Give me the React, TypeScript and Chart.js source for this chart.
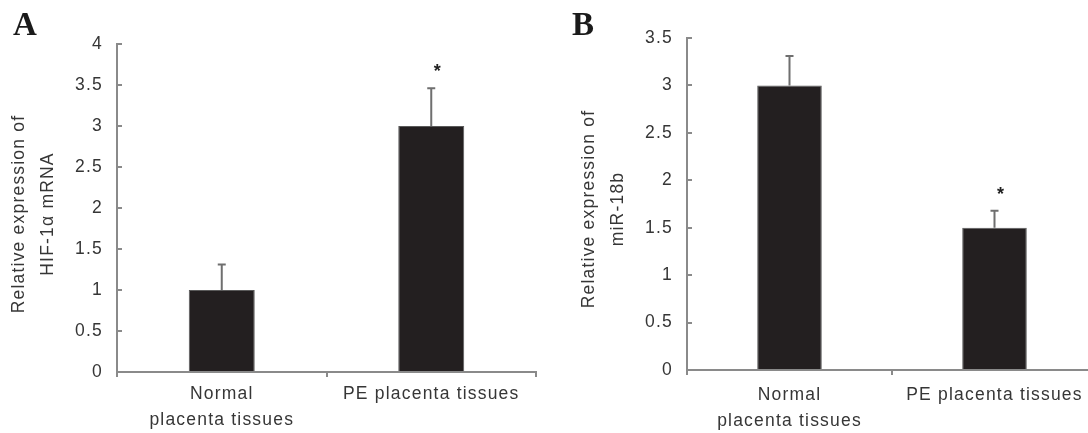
import React, { useEffect, useRef } from "react";
import { Chart, registerables } from "chart.js";

Chart.register(...registerables);

// ---- data ----
const categories: (string | string[])[] = [["Normal", "placenta tissues"], "PE placenta tissues"];

const hifMeans = [1.0, 3.0];
const hifErrors = [0.31, 0.46];
const hifSignificant = [false, true];
const hifTitle = ["Relative expression of", "HIF-1α mRNA"];
const hifMax = 4;

const mirMeans = [3.0, 1.5];
const mirErrors = [0.31, 0.18];
const mirSignificant = [false, true];
const mirTitle = ["Relative expression of", "miR-18b"];
const mirMax = 3.5;

const tickStep = 0.5;

// ---- style ----
const FONT = '"Liberation Sans", Arial, sans-serif';
const FS = 17.5;
const TEXT = "#363636";
const AXIS = "#8a8a8a";
const BAR = "#231f20";
const BAR_BORDER = "#5a5a5a";
const ERR = "#6f6f6f";
const SPACING = "1.2px";

type PanelCfg = {
  letter: string;
  means: number[];
  errors: number[];
  sig: boolean[];
  title: string[];
  max: number;
  yWidth: number;
  xHeight: number;
  top: number;
  right: number;
  titleX: number;
  titleShift: number;
  xPad: number;
  letterX: number;
};

function makeChart(canvas: HTMLCanvasElement, p: PanelCfg) {
  const decor = {
    id: "decor",
    beforeLayout(chart: any) {
      chart.ctx.letterSpacing = SPACING;
    },
    beforeDraw(chart: any) {
      chart.ctx.letterSpacing = SPACING;
    },
    afterDatasetsDraw(chart: any) {
      const ctx = chart.ctx;
      const y = chart.scales.y;
      const meta = chart.getDatasetMeta(0);
      ctx.save();
      meta.data.forEach((bar: any, i: number) => {
        const cx = bar.x;
        const base = y.getPixelForValue(p.means[i]);
        const top = y.getPixelForValue(p.means[i] + p.errors[i]);
        ctx.strokeStyle = ERR;
        ctx.lineWidth = 2;
        ctx.beginPath();
        ctx.moveTo(cx, base);
        ctx.lineTo(cx, top);
        ctx.moveTo(cx - 4, top);
        ctx.lineTo(cx + 4, top);
        ctx.stroke();
        if (p.sig[i]) {
          ctx.letterSpacing = "0px";
          ctx.fillStyle = "#222";
          ctx.font = `bold 18px ${FONT}`;
          ctx.textAlign = "center";
          ctx.textBaseline = "alphabetic";
          ctx.fillText("*", cx + 6, top - 21 + 10);
        }
      });
      // inward y tick marks
      ctx.strokeStyle = AXIS;
      ctx.lineWidth = 2;
      y.ticks.forEach((t: any) => {
        const py = Math.round(y.getPixelForValue(t.value));
        ctx.beginPath();
        ctx.moveTo(y.right, py);
        ctx.lineTo(y.right + 5, py);
        ctx.stroke();
      });
      ctx.restore();
    },
    afterDraw(chart: any) {
      const ctx = chart.ctx;
      const y = chart.scales.y;
      ctx.save();
      // y-axis title, two rotated lines
      ctx.letterSpacing = SPACING;
      ctx.fillStyle = TEXT;
      ctx.font = `${FS}px ${FONT}`;
      ctx.textAlign = "center";
      ctx.textBaseline = "middle";
      const lh = 29;
      const cy = (y.top + y.bottom) / 2 + p.titleShift;
      p.title.forEach((line, i) => {
        ctx.save();
        ctx.translate(y.left + p.titleX + i * lh, cy);
        ctx.rotate(-Math.PI / 2);
        ctx.fillText(line, 0, 0);
        ctx.restore();
      });
      // panel letter
      ctx.letterSpacing = "0px";
      ctx.fillStyle = "#1a1a1a";
      ctx.font = 'bold 33px "Liberation Serif", "Times New Roman", serif';
      ctx.textAlign = "left";
      ctx.textBaseline = "alphabetic";
      ctx.fillText(p.letter, p.letterX, 35);
      ctx.restore();
    },
  };

  return new Chart(canvas, {
    type: "bar",
    data: {
      labels: categories,
      datasets: [
        {
          data: p.means,
          backgroundColor: BAR,
          borderColor: BAR_BORDER,
          borderWidth: 1,
          barPercentage: 0.315,
          categoryPercentage: 1,
        },
      ],
    },
    options: {
      responsive: false,
      animation: false,
      devicePixelRatio: 1,
      layout: { padding: { left: 0, top: p.top, right: p.right, bottom: 0 } },
      plugins: { legend: { display: false }, tooltip: { enabled: false } },
      scales: {
        x: {
          afterFit: (s: any) => {
            s.height = p.xHeight;
          },
          grid: {
            display: true,
            drawOnChartArea: false,
            drawTicks: true,
            tickLength: 5,
            color: AXIS,
            lineWidth: 2,
          },
          border: { display: true, color: AXIS, width: 2 },
          ticks: {
            color: TEXT,
            font: { family: FONT, size: FS, lineHeight: 1.5 },
            padding: p.xPad,
            autoSkip: false,
            maxRotation: 0,
            minRotation: 0,
          },
        },
        y: {
          min: 0,
          max: p.max,
          afterFit: (s: any) => {
            s.width = p.yWidth;
          },
          grid: { display: true, drawOnChartArea: false, drawTicks: false, color: AXIS, lineWidth: 2 },
          border: { display: true, color: AXIS, width: 2 },
          ticks: {
            stepSize: tickStep,
            color: TEXT,
            font: { family: FONT, size: FS },
            padding: 14,
            callback: (v: any) => String(v),
          },
          title: { display: false },
        },
      },
    },
    plugins: [decor],
  } as any);
}

export default function App() {
  const refA = useRef<HTMLCanvasElement>(null);
  const refB = useRef<HTMLCanvasElement>(null);

  useEffect(() => {
    const a = makeChart(refA.current!, {
      letter: "A",
      means: hifMeans,
      errors: hifErrors,
      sig: hifSignificant,
      title: hifTitle,
      max: hifMax,
      yWidth: 117,
      xHeight: 61,
      top: 44,
      right: 9,
      titleX: 19,
      titleShift: 6,
      xPad: 3.8,
      letterX: 13,
    });
    const b = makeChart(refB.current!, {
      letter: "B",
      means: mirMeans,
      errors: mirErrors,
      sig: mirSignificant,
      title: mirTitle,
      max: mirMax,
      yWidth: 127,
      xHeight: 63,
      top: 38,
      right: 8,
      titleX: 29,
      titleShift: 5,
      xPad: 6.8,
      letterX: 12,
    });
    return () => {
      a.destroy();
      b.destroy();
    };
  }, []);

  return (
    <div
      style={{
        position: "fixed",
        left: 0,
        top: 0,
        width: 1088,
        height: 433,
        overflow: "hidden",
        background: "#fff",
      }}
    >
      <canvas
        ref={refA}
        width={545}
        height={433}
        style={{ position: "absolute", left: 0, top: 0, width: 545, height: 433 }}
      />
      <canvas
        ref={refB}
        width={545}
        height={433}
        style={{ position: "absolute", left: 560, top: 0, width: 545, height: 433 }}
      />
    </div>
  );
}
